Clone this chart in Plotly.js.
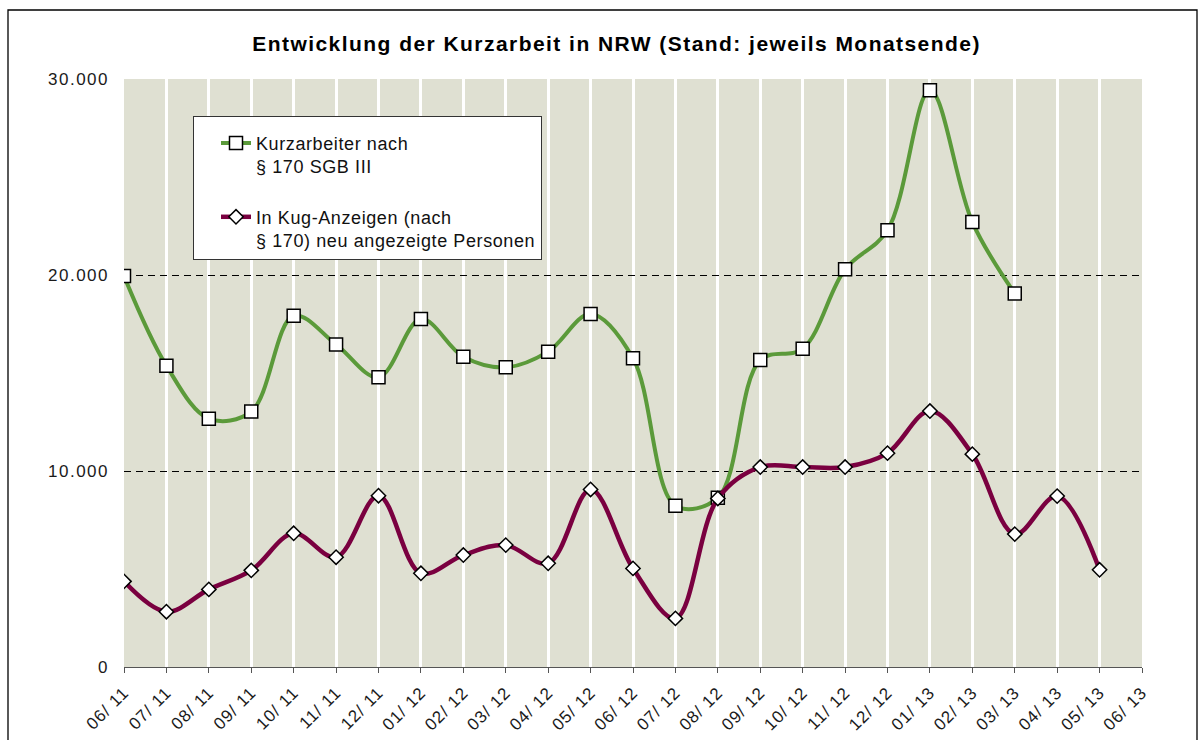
<!DOCTYPE html>
<html>
<head>
<meta charset="utf-8">
<script src="https://cdn.plot.ly/plotly-3.0.1.min.js"></script>
<style>
  html, body { margin: 0; padding: 0; background: #ffffff; }
  #chart { width: 1200px; height: 740px; }
  .gtitle { letter-spacing: 1.45px; }
  .ytick text, .y2tick text { letter-spacing: 1.5px; }
  .xtick text { letter-spacing: 1px; }
  .legendtext { letter-spacing: 0.6px; }
</style>
</head>
<body>
<div id="chart"></div>
<script>
// ---- data ----
const months = ['06/ 11','07/ 11','08/ 11','09/ 11','10/ 11','11/ 11','12/ 11','01/ 12','02/ 12','03/ 12',
                '04/ 12','05/ 12','06/ 12','07/ 12','08/ 12','09/ 12','10/ 12','11/ 12','12/ 12','01/ 13',
                '02/ 13','03/ 13','04/ 13','05/ 13','06/ 13'];
const kurzarbeiter = [19950, 15370, 12670, 13030, 17920, 16460, 14780, 17750, 15830, 15290,
                      16090, 18010, 15750, 8230, 8640, 15660, 16240, 20290, 22280, 29420,
                      22700, 19060, null, null, null];
const anzeigen = [4370, 2820, 3960, 4930, 6820, 5600, 8740, 4780, 5710, 6220,
                  5290, 9060, 5030, 2480, 8600, 10200, 10200, 10200, 10910, 13060,
                  10860, 6780, 8720, 4960, null];
const seriesNames = ['Kurzarbeiter nach<br>§ 170 SGB III',
                     'In Kug-Anzeigen (nach<br>§ 170) neu angezeigte Personen'];
const yTicksInner = [0, 10000, 20000];
const yTicksTop = [30000];
const yMax = 30000;
const chartTitle = 'Entwicklung der Kurzarbeit in NRW (Stand: jeweils Monatsende)';

const FONT = 'Liberation Sans, Arial, sans-serif';

const traces = [
  {
    x: months, y: kurzarbeiter, name: seriesNames[0], type: 'scatter', mode: 'lines+markers',
    legendgroup: 'a', xaxis: 'x', yaxis: 'y',
    line: { color: '#5b9a3a', width: 4, shape: 'spline', smoothing: 1 },
    marker: { symbol: 'square', size: 13, color: '#ffffff', line: { color: '#000000', width: 1.5 } }
  },
  {
    x: months, y: anzeigen, name: seriesNames[1], type: 'scatter', mode: 'lines+markers',
    legendgroup: 'b', xaxis: 'x', yaxis: 'y2',
    line: { color: '#7a0040', width: 4.5, shape: 'spline', smoothing: 1 },
    marker: { symbol: 'diamond', size: 11, color: '#ffffff', line: { color: '#000000', width: 1.5 } }
  }
];

const tickFont = { family: FONT, size: 17, color: '#1a1a1a' };

const layout = {
  width: 1200, height: 740,
  margin: { l: 124, r: 58, t: 79, b: 73 },
  paper_bgcolor: '#ffffff',
  plot_bgcolor: '#dfe0d2',
  separators: ',.',
  font: { family: FONT, color: '#111111' },
  title: {
    text: '<b>' + chartTitle + '</b>',
    font: { family: FONT, size: 21, color: '#000000' },
    xref: 'container', x: 0.5138, xanchor: 'center',
    yref: 'container', y: 1 - 44 / 740, yanchor: 'middle'
  },
  xaxis: {
    type: 'category', categoryorder: 'array', categoryarray: months,
    range: [0, months.length - 1],
    showgrid: true, gridcolor: '#ffffff', gridwidth: 3,
    showline: true, linecolor: '#555555', linewidth: 1,
    ticks: 'outside', ticklen: 5, tickcolor: '#555555', tickwidth: 1,
    ticklabelstandoff: 3,
    tickangle: -45, tickfont: { family: FONT, size: 17, color: '#1a1a1a' },
    zeroline: false, fixedrange: true
  },
  yaxis: {
    range: [0, yMax], tickvals: yTicksInner, tickformat: ',.0f',
    showgrid: true, gridcolor: '#000000', gridwidth: 1, griddash: '7px,5px',
    showline: false, zeroline: false, ticks: '',
    ticklabelstandoff: 14, tickfont: tickFont, fixedrange: true
  },
  yaxis2: {
    overlaying: 'y', side: 'left', anchor: 'x',
    range: [0, yMax], tickvals: yTicksTop, tickformat: ',.0f',
    showgrid: true, gridcolor: '#d0d0d0', gridwidth: 1, griddash: '7px,5px',
    showline: false, zeroline: false, ticks: '',
    ticklabelstandoff: 14, tickfont: tickFont, fixedrange: true
  },
  showlegend: true,
  legend: {
    x: (193 - 124) / 1018, xanchor: 'left',
    y: (667 - 116) / 588, yanchor: 'top',
    bgcolor: '#ffffff', bordercolor: '#333333', borderwidth: 1,
    font: { family: FONT, size: 18, color: '#111111' },
    valign: 'top', tracegroupgap: 24, indentation: 22,
    title: { text: ' ', font: { size: 6 } }
  },
  shapes: [
    { type: 'rect', xref: 'paper', yref: 'paper',
      x0: (8 - 124) / 1018, x1: (1197 - 124) / 1018,
      y0: (667 - 760) / 588, y1: (667 - 10) / 588,
      line: { color: '#000000', width: 1.3 }, fillcolor: 'rgba(0,0,0,0)', layer: 'below' }
  ]
};

Plotly.newPlot('chart', traces, layout, { displayModeBar: false, staticPlot: true });
</script>
</body>
</html>
